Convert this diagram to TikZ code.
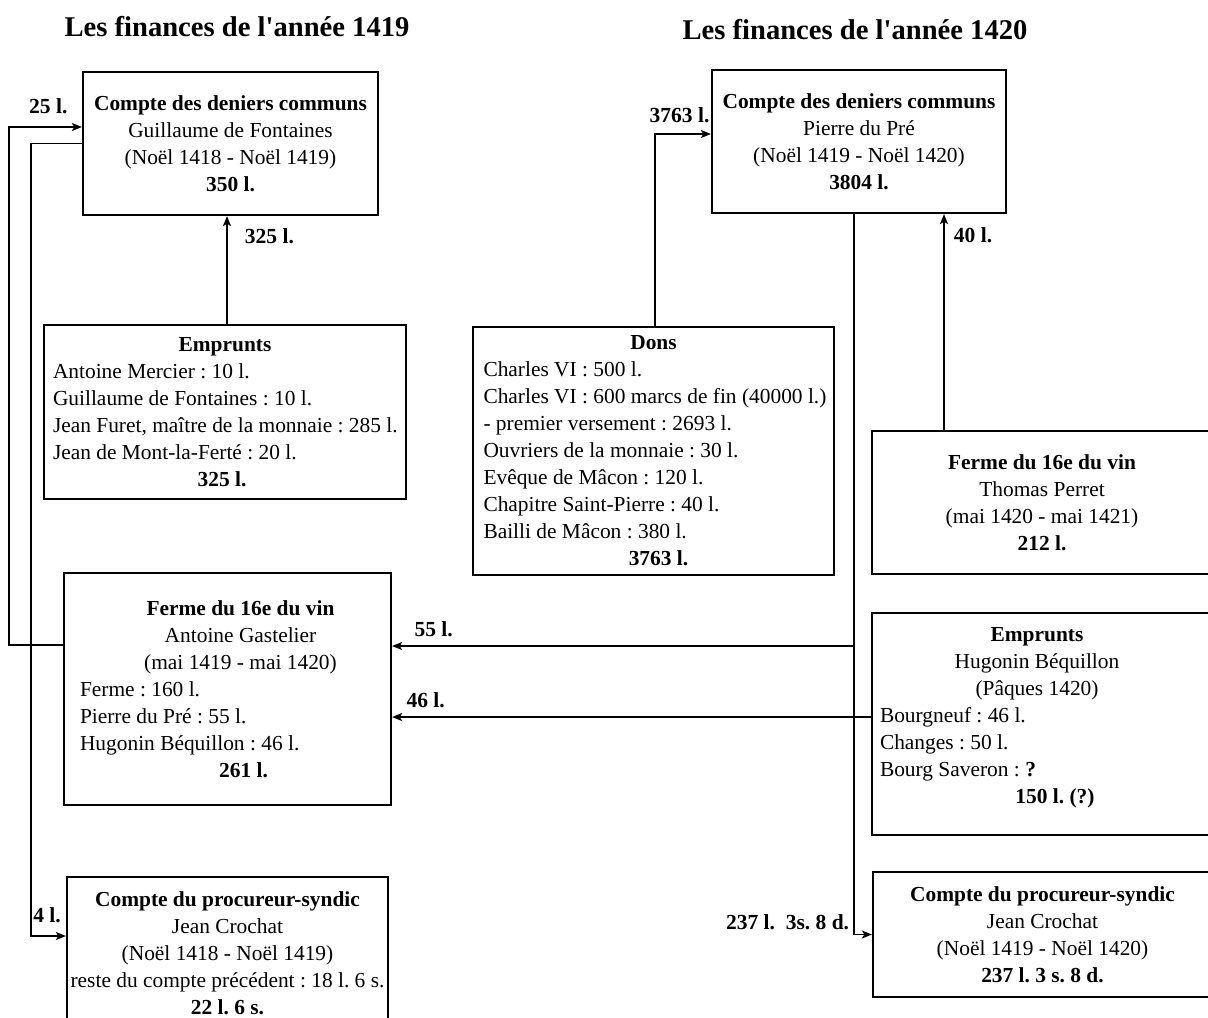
\documentclass[tikz,border=0pt]{standalone}
\usepackage{fontspec}
\setmainfont{Liberation Serif}
\usetikzlibrary{arrows.meta, positioning, calc}
\newcommand{\centred}[2][0pt]{\makebox[\hsize]{\hspace*{#1}#2}}
\frenchspacing

\begin{document}
\begin{tikzpicture}[
    x=0.5pt, y=-0.5pt,
    acct/.style={rectangle, draw=black, line width=1.1pt, inner sep=0pt,
                 align=center, font=\fontsize{10.7}{13.5}\selectfont},
    listacct/.style={acct, align=flush left},
    heading/.style={font=\fontsize{14.3}{17}\selectfont\bfseries},
    amount/.style={font=\fontsize{10.75}{13}\selectfont\bfseries, inner sep=1.5pt},
    flow/.style={-{Stealth[length=5pt, width=4pt, inset=1.2pt]}, line width=0.9pt},
    plainline/.style={line width=0.9pt}
]
\useasboundingbox (0,0) rectangle (1208,1017);

\node[heading] (title19) at (237,27) {Les finances de l\textquotesingle année 1419};
\node[heading] (title20) at (855,30) {Les finances de l\textquotesingle année 1420};

\node[acct, minimum width=147.5pt, minimum height=71.5pt] (cdc19) at (230.5,143.5)
  {\textbf{Compte des deniers communs}\\Guillaume de Fontaines\\(Noël 1418 - Noël 1419)\\\textbf{350 l.}};
\node[listacct, minimum width=181pt, minimum height=87pt, text width=172pt] (emp19) at (225,412)
  {\centred{\textbf{Emprunts}}\\Antoine Mercier : 10 l.\\Guillaume de Fontaines : 10 l.\\\mbox{Jean Furet, maître de la monnaie : 285 l.}\\Jean de Mont-la-Ferté : 20 l.\\\centred[-3pt]{\textbf{325 l.}}};
\node[listacct, minimum width=163.5pt, minimum height=116pt, text width=147.5pt] (fer19) at (227.5,689)
  {\centred[13pt]{\textbf{Ferme du 16e du vin}}\\\centred[13pt]{Antoine Gastelier}\\\centred[13pt]{(mai 1419 - mai 1420)}\\Ferme : 160 l.\\Pierre du Pré : 55 l.\\Hugonin Béquillon : 46 l.\\\centred[16pt]{\textbf{261 l.}}};
\node[acct, minimum width=160.5pt, minimum height=76.5pt] (cps19) at (227.5,953.5)
  {\textbf{Compte du procureur-syndic}\\Jean Crochat\\(Noël 1418 - Noël 1419)\\reste du compte précédent : 18 l. 6 s.\\\textbf{22 l. 6 s.}};

\node[acct, minimum width=147pt, minimum height=71.5pt] (cdc20) at (859,141.5)
  {\textbf{Compte des deniers communs}\\Pierre du Pré\\(Noël 1419 - Noël 1420)\\\textbf{3804 l.}};
\node[listacct, minimum width=180.5pt, minimum height=124pt, text width=170pt] (dons) at (653.5,451)
  {\centred{\textbf{Dons}}\\Charles VI : 500 l.\\\mbox{Charles VI : 600 marcs de fin (40000 l.)}\\- premier versement : 2693 l.\\Ouvriers de la monnaie : 30 l.\\Evêque de Mâcon : 120 l.\\Chapitre Saint-Pierre : 40 l.\\Bailli de Mâcon : 380 l.\\\centred[5pt]{\textbf{3763 l.}}};
\node[acct, minimum width=170pt, minimum height=71.5pt] (fer20) at (1042,502.5)
  {\textbf{Ferme du 16e du vin}\\Thomas Perret\\(mai 1420 - mai 1421)\\\textbf{212 l.}};
\node[listacct, minimum width=170pt, minimum height=111pt, text width=162pt] (emp20) at (1042,724)
  {\centred[-5pt]{\textbf{Emprunts}}\\\centred[-5pt]{Hugonin Béquillon}\\\centred[-5pt]{(Pâques 1420)}\\Bourgneuf : 46 l.\\Changes : 50 l.\\Bourg Saveron : \textbf{?}\\\centred[13pt]{\textbf{150 l. (?)}}\vspace{6pt}};
\node[acct, minimum width=169.5pt, minimum height=62.5pt] (cps20) at (1042.5,934.5)
  {\textbf{Compte du procureur-syndic}\\Jean Crochat\\(Noël 1419 - Noël 1420)\\\textbf{237 l. 3 s. 8 d.}};

\coordinate (trunk) at ([xshift=-2.5pt]cdc20.south);
\coordinate (in55) at ([yshift=21.5pt]fer19.east);

\draw[flow] ([yshift=22pt]fer19.west) -- ++(-54,0) |- node[amount, pos=0.77, above=4.5pt]{25 l.} ([yshift=8.25pt]cdc19.west);
\draw[flow] (cdc19.west) -- ++(-51,0) |- node[amount, pos=0.73, above=4.5pt]{4 l.} ([yshift=8.75pt]cps19.west);
\draw[flow] ([xshift=1pt]emp19.north) -- node[amount, pos=0.81, right=7pt]{325 l.} ([xshift=1pt]emp19.north |- cdc19.south);

\draw[flow] ([xshift=0.75pt]dons.north) |- node[amount, pos=0.72, above=3.5pt]{3763 l.} ([yshift=3.75pt]cdc20.west);
\draw[flow] ([xshift=-49pt]fer20.north) -- node[amount, pos=0.9, right=3pt]{40 l.} ([xshift=-49pt]fer20.north |- cdc20.south);
\draw[flow] (trunk) |- node[amount, pos=0.5, anchor=south east, inner sep=2pt]{237 l.~~3s. 8 d.} (cps20.west);
\draw[flow] (trunk |- in55) -- node[amount, pos=0.91, above=2.5pt]{55 l.} (in55);
\draw[flow] ([yshift=3.5pt]emp20.west) -- node[amount, pos=0.93, above=2.5pt]{46 l.} ([yshift=3.5pt]emp20.west -| fer19.east);

\end{tikzpicture}
\end{document}
